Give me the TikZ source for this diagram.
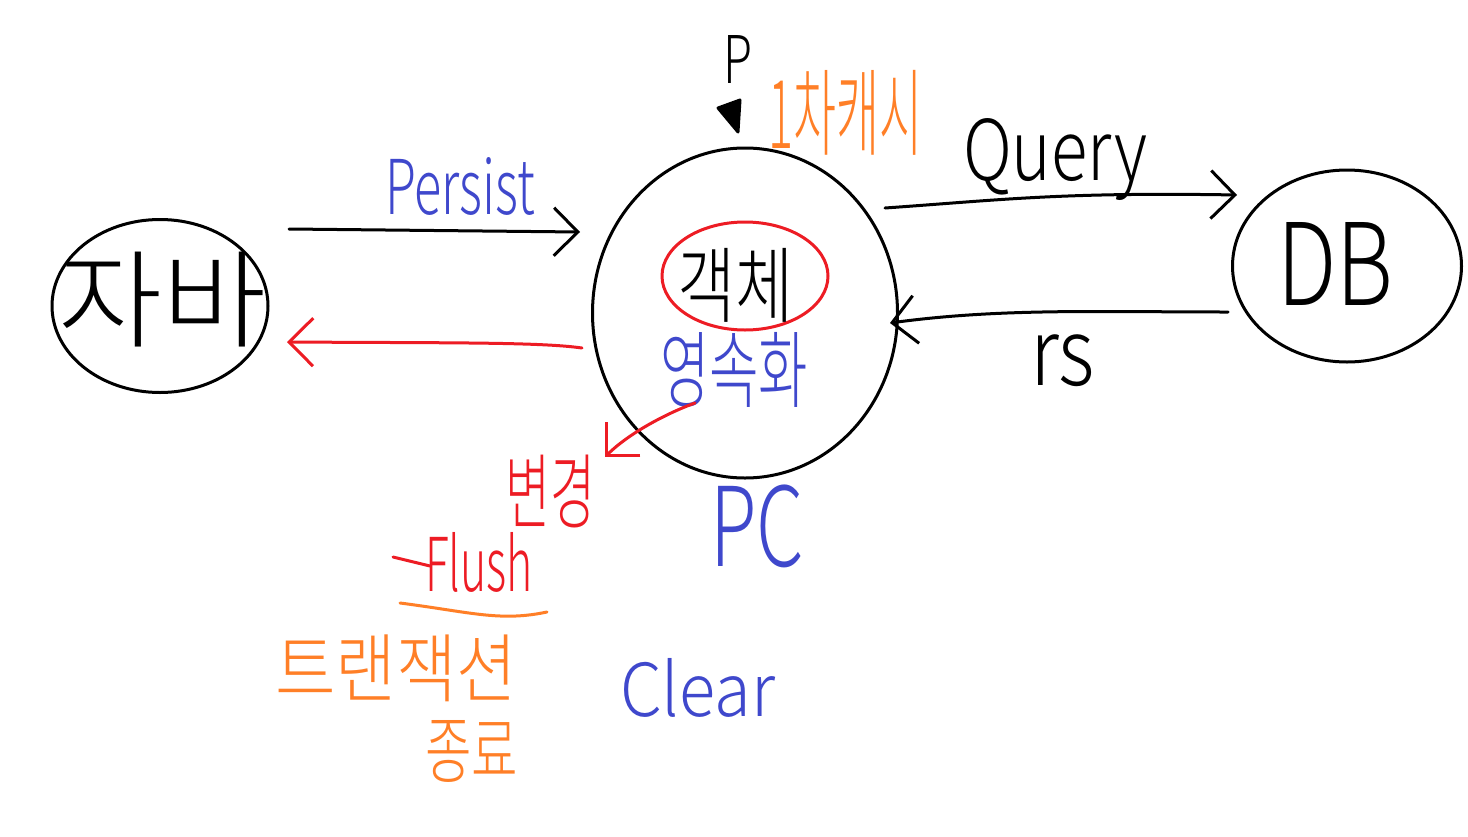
\documentclass[tikz,border=0pt]{standalone}
\usepackage{fontspec}
\setmainfont{Noto Sans CJK KR}[UprightFont={* Light}]
\usepackage{graphicx}
\usetikzlibrary{arrows.meta,shapes.geometric}
\definecolor{pblue}{RGB}{63,72,204}
\definecolor{pred}{RGB}{237,28,36}
\definecolor{porange}{RGB}{255,127,39}
\newcommand{\fitbox}[3]{\resizebox*{#1}{#2}{#3}}
\tikzset{
  pen/.style={line width=3pt, line cap=round, line join=round},
  blob/.style={ellipse, draw, pen, inner sep=0pt},
  barb/.style={pen, -{Straight Barb[length=24pt,width=48pt,line width=3pt]}},
  lbl/.style={inner sep=0pt, outer sep=0pt, anchor=north west},
}
\begin{document}
\begin{tikzpicture}[x=1pt,y=-1pt]
\useasboundingbox[fill=white] (0,0) rectangle (1468,836);

% main shapes
\node[blob, minimum width=216pt, minimum height=173pt] (java) at (160,306) {};
\node[blob, minimum width=305pt, minimum height=330pt] (pc) at (745,313) {};
\node[blob, draw=pred, minimum width=166pt, minimum height=108pt] (cache) at (745,276) {};
\node[blob, minimum width=229pt, minimum height=192pt] (db) at (1347,266) {};

% texts
\node[lbl] (javat) at (58,252) {\fitbox{208pt}{95pt}{자바}};
\node[lbl] (objt) at (677,248) {\fitbox{116pt}{74pt}{객체}};
\node[lbl, text=pblue] (persistk) at (660,332) {\fitbox{148pt}{75pt}{영속화}};
\node[lbl] (dbt) at (1277,222) {\fitbox{116pt}{83pt}{DB}};
\node[lbl] (pt) at (723,35) {\fitbox{29pt}{48pt}{P}};
\node[lbl, text=porange] (cachet) at (768,70) {\fitbox{154pt}{85pt}{1차캐시}};
\node[lbl, text=pblue] (persistt) at (385,157) {\fitbox{150pt}{58pt}{Persist}};
\node[lbl] (queryt) at (963,118) {\fitbox{184pt}{82pt}{Query}};
\node[lbl] (rst) at (1030,335) {\fitbox{65pt}{52pt}{rs}};
\node[lbl, text=pblue] (pct) at (710,485) {\fitbox{94pt}{83pt}{PC}};
\node[lbl, text=pblue] (cleart) at (620,658) {\fitbox{155pt}{59pt}{Clear}};
\node[lbl, text=pred] (changet) at (505,455) {\fitbox{90pt}{73pt}{변경}};
\node[lbl, text=pred] (flusht) at (425,532) {\fitbox{108pt}{60pt}{Flush}};
\node[lbl, text=porange] (txt) at (275,635) {\fitbox{242pt}{67pt}{트랜잭션}};
\node[lbl, text=porange] (endt) at (425,720) {\fitbox{93pt}{62pt}{종료}};

% marker under P
\draw[pen, fill=black] (718,108) -- (740,100) -- (738,132) -- cycle;

% flush strokes
\coordinate (fl1) at (393,557);
\coordinate (fl2) at (430,566);
\draw[pen, pred] (fl1) -- (fl2);
\coordinate (ul1) at (400,603);
\coordinate (ul2) at (547,612);
\draw[pen, porange] (ul1) .. controls (470,612) and (500,622) .. (ul2);

% connectors
\coordinate (pA) at (289,229);
\coordinate (pB) at (580,232);
\draw[barb] (pA) -- (pB);

\coordinate (rA) at (582,348);
\coordinate (rB) at (287,342);
\draw[barb, pred] (rA) .. controls (540,342) and (450,343) .. (rB);

\coordinate (qA) at (885,208);
\coordinate (qB) at (1237,195);
\draw[barb] (qA) .. controls (1000,200) and (1060,192) .. (qB);

\coordinate (sA) at (1228,312);
\coordinate (sB) at (890,323);
\draw[barb] (sA) .. controls (1100,312) and (1000,308) .. (sB);

\coordinate (cA) at (695,403);
\coordinate (cB) at (605,457);
\draw[barb, pred] (cA) .. controls (670,412) and (630,432) .. (cB);
\end{tikzpicture}
\end{document}
